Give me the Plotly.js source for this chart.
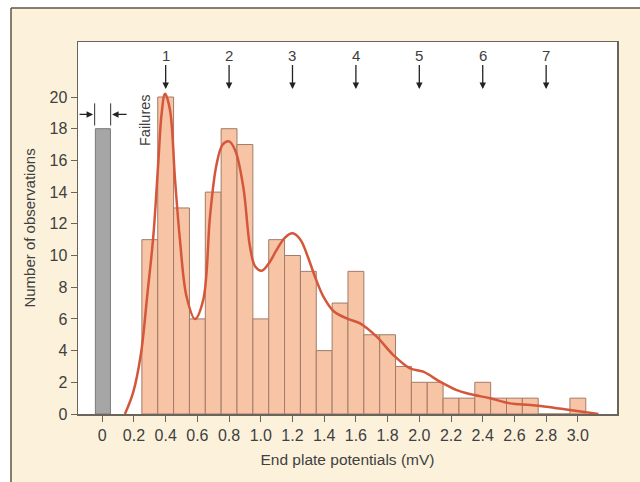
<!DOCTYPE html>
<html>
<head>
<meta charset="utf-8">
<script src="https://cdn.plot.ly/plotly-3.0.1.min.js"></script>
<style>html,body{margin:0;padding:0;background:#fff;}#chart{width:640px;height:482px;}</style>
</head>
<body>
<div id="chart"></div>
<script>
// ---- data ----
var binCenters = [0.3,0.4,0.5,0.6,0.7,0.8,0.9,1.0,1.1,1.2,1.3,1.4,1.5,1.6,1.7,1.8,1.9,2.0,2.1,2.2,2.3,2.4,2.5,2.6,2.7,2.8,2.9,3.0];
var binCounts  = [11,20,13,6,14,18,17,6,11,10,9,4,7,9,5,5,3,2,2,1,1,2,1,1,1,0,0,1];
var failureX = [0.004];
var failureCount = [18];
var curveX = [0.143,0.196,0.244,0.285,0.322,0.353,0.375,0.396,0.427,0.459,0.49,0.532,0.585,0.637,0.68,0.72,0.76,0.80,0.84,0.89,0.932,0.965,1.006,1.05,1.10,1.15,1.20,1.25,1.29,1.342,1.395,1.458,1.542,1.626,1.731,1.836,1.941,2.025,2.13,2.236,2.32,2.446,2.572,2.70,2.80,2.95,3.13];
var curveY = [0.0,1.4,3.8,7.6,11.2,15.8,19.0,20.2,19.2,14.8,11.0,7.4,6.0,7.2,12.5,15.7,17.0,17.2,16.6,14.3,10.55,9.3,9.04,9.5,10.35,11.1,11.4,11.0,10.1,8.66,7.4,6.5,6.03,5.72,4.88,3.72,2.88,2.67,2.04,1.51,1.26,0.99,0.67,0.57,0.46,0.25,0.0];
var quantalX = [0.4,0.8,1.2,1.6,2.0,2.4,2.8];
var quantalLabels = ['1','2','3','4','5','6','7'];
var xTickVals = [0,0.2,0.4,0.6,0.8,1.0,1.2,1.4,1.6,1.8,2.0,2.2,2.4,2.6,2.8,3.0];
var xTickText = ['0','0.2','0.4','0.6','0.8','1.0','1.2','1.4','1.6','1.8','2.0','2.2','2.4','2.6','2.8','3.0'];
var yTickVals = [0,2,4,6,8,10,12,14,16,18,20];

// ---- layout helpers ----
var L = 78, R = 617, T = 42, B = 414;
function px(x){ return (x - L) / (R - L); }
function py(y){ return (B - y) / (B - T); }
var fontFam = 'Liberation Sans, Arial, sans-serif';
var txtCol = '#404040';
var frameCol = '#6a645a';

var traces = [
  {type:'bar', x:failureX, y:failureCount, width:0.095,
   marker:{color:'#a6a6a6', line:{color:'#7a7a7a', width:1}}, hoverinfo:'skip'},
  {type:'bar', x:binCenters, y:binCounts, width:0.1,
   marker:{color:'#f7c4a6', line:{color:'#a37b67', width:1}}, hoverinfo:'skip'},
  {type:'scatter', mode:'lines', x:curveX, y:curveY,
   line:{color:'#d4573b', width:2.5, shape:'spline', smoothing:1}, hoverinfo:'skip'}
];

var annotations = [];
for (var i = 0; i < quantalX.length; i++) {
  annotations.push({x:quantalX[i], y:20.5, xref:'x', yref:'y', text:quantalLabels[i],
    showarrow:true, arrowhead:2, arrowsize:1, arrowwidth:1.3, arrowcolor:'#222',
    ax:0, ay:-34, font:{family:fontFam, size:15, color:txtCol}});
}
// failures arrows
annotations.push({x:-0.058, y:18.9, xref:'x', yref:'y', text:'', showarrow:true,
  arrowhead:2, arrowsize:1, arrowwidth:1.3, arrowcolor:'#222', ax:-15, ay:0});
annotations.push({x:0.062, y:18.9, xref:'x', yref:'y', text:'', showarrow:true,
  arrowhead:2, arrowsize:1, arrowwidth:1.3, arrowcolor:'#222', ax:16, ay:0});
annotations.push({x:0.27, y:18.55, xref:'x', yref:'y', text:'Failures', textangle:-90,
  showarrow:false, font:{family:fontFam, size:14.5, color:txtCol}});

var shapes = [
  {type:'line', xref:'x', yref:'y', x0:-0.048, x1:-0.048, y0:18.2, y1:19.6, line:{color:'#333', width:1}},
  {type:'line', xref:'x', yref:'y', x0:0.053, x1:0.053, y0:18.2, y1:19.6, line:{color:'#333', width:1}},
  // white outside the outer frame
  {type:'rect', xref:'paper', yref:'paper', x0:px(0), x1:px(641), y0:py(8), y1:py(-1), fillcolor:'#ffffff', line:{width:0}, layer:'above'},
  {type:'rect', xref:'paper', yref:'paper', x0:px(-1), x1:px(11), y0:py(483), y1:py(-1), fillcolor:'#ffffff', line:{width:0}, layer:'above'},
  {type:'line', xref:'paper', yref:'paper', x0:px(11), x1:px(641), y0:py(8), y1:py(8), line:{color:'#5c5548', width:1.5}, layer:'above'},
  {type:'line', xref:'paper', yref:'paper', x0:px(11), x1:px(11), y0:py(8), y1:py(483), line:{color:'#5c5548', width:1.5}, layer:'above'}
];

var layout = {
  width:640, height:482,
  margin:{l:L, r:640-R, t:T, b:482-B, pad:0},
  paper_bgcolor:'#fcf2dc', plot_bgcolor:'#ffffff',
  showlegend:false, barmode:'overlay',
  font:{family:fontFam, color:txtCol},
  xaxis:{range:[-0.153, 3.247], tickvals:xTickVals, ticktext:xTickText,
    ticks:'outside', ticklen:6, tickwidth:1, tickcolor:frameCol,
    showline:true, linecolor:frameCol, linewidth:1.5, mirror:true,
    showgrid:false, zeroline:false, tickfont:{size:16, color:txtCol},
    title:{text:'End plate potentials (mV)', font:{size:15.5, color:txtCol}, standoff:11}},
  yaxis:{range:[0, 23.47], tickvals:yTickVals,
    ticks:'outside', ticklen:6, tickwidth:1, tickcolor:frameCol,
    showline:true, linecolor:frameCol, linewidth:1.5, mirror:true,
    showgrid:false, zeroline:false, tickfont:{size:16, color:txtCol},
    title:{text:'Number of observations', font:{size:15, color:txtCol}, standoff:10}},
  annotations:annotations,
  shapes:shapes
};

Plotly.newPlot('chart', traces, layout, {staticPlot:true, displayModeBar:false});
</script>
</body>
</html>
